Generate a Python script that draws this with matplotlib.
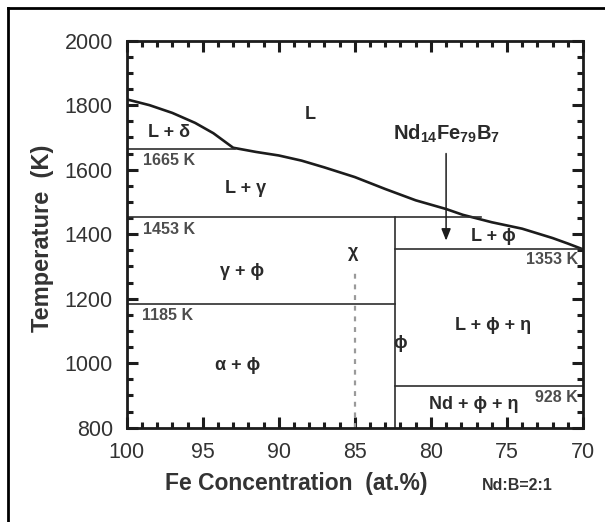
import matplotlib
matplotlib.use('Agg')
import matplotlib.pyplot as plt
from matplotlib.lines import Line2D
from matplotlib.ticker import MultipleLocator

plt.rcParams['font.family'] = ['Liberation Sans', 'DejaVu Sans']
plt.rcParams['mathtext.fontset'] = 'custom'
plt.rcParams['mathtext.bf'] = 'Liberation Sans:bold'
plt.rcParams['mathtext.rm'] = 'Liberation Sans'

# liquidus line (at.% Fe, K)
liq_fe = [100, 98.5, 97, 95.5, 94.3, 93.0, 91.5, 90, 88.5, 87, 85, 83, 81, 79,
          77.9, 76, 74, 72, 71, 70]
liq_T = [1818, 1800, 1776, 1745, 1713, 1668, 1655, 1644, 1628, 1607, 1577, 1540,
         1505, 1478, 1460, 1437, 1417, 1388, 1371, 1353]

# isotherms
iso_T = [1665, 1453, 1353, 1185, 928]
iso_fe0 = [100, 100, 82.36, 100, 82.36]
iso_fe1 = [92.9, 76.7, 70, 82.36, 70]
iso_lbl = ['1665 K', '1453 K', '1353 K', '1185 K', '928 K']

phi_fe = 82.36   # Nd2Fe14B line
phi_top = 1453
chi_fe = 85.0
chi_top = 1285
alloy_fe = 79.0  # Nd14Fe79B7

dark = '#1c1c1c'
grey = '#4d4d4d'
PHI = '\u03d5'

fig = plt.figure(figsize=(6.05, 5.22), dpi=100)
ax = fig.add_axes([0.2094, 0.1807, 0.7542, 0.7414])

ax.plot(liq_fe, liq_T, color=dark, lw=1.9, solid_capstyle='round')
for T, a, b in zip(iso_T, iso_fe0, iso_fe1):
    ax.plot([a, b], [T, T], color='#2e2e2e', lw=1.2)
ax.plot([phi_fe, phi_fe], [800, phi_top], color='#2e2e2e', lw=1.2)
ax.plot([chi_fe, chi_fe], [800, chi_top], color='#9a9a9a', lw=1.6,
        linestyle=(0, (2.2, 2.6)))

ax.set_xlim(100, 70)
ax.set_ylim(800, 2000)
ax.xaxis.set_major_locator(MultipleLocator(5))
ax.xaxis.set_minor_locator(MultipleLocator(1))
ax.yaxis.set_major_locator(MultipleLocator(200))
ax.yaxis.set_minor_locator(MultipleLocator(50))
ax.tick_params(which='major', direction='in', length=8, width=2.2,
               color=dark, top=True, right=True, pad=10, labelsize=15.5,
               labelcolor='#333333')
ax.tick_params(which='minor', direction='in', length=4.5, width=2.2,
               color=dark, top=True, right=True)
for s in ax.spines.values():
    s.set_linewidth(2.0)
    s.set_color(dark)

ax.set_xlabel('Fe Concentration  (at.%)', fontsize=16.5, fontweight='bold',
              color='#333333')
ax.xaxis.set_label_coords(0.372, -0.115)
ax.set_ylabel('Temperature  (K)', fontsize=17, fontweight='bold',
              color='#333333')
ax.yaxis.set_label_coords(-0.16, 0.49)
fig.text(517 / 605, 1 - 485 / 522, 'Nd:B=2:1', fontsize=11.5,
         fontweight='bold', color='#333333', ha='center', va='center')

# phase labels
lab = dict(fontsize=13, fontweight='bold', color='#2a2a2a', ha='center',
           va='center')
ax.text(87.95, 1770, 'L', **lab)
ax.text(97.2, 1714, 'L + δ', **lab)
ax.text(92.2, 1542, 'L + γ', **lab)
ax.text(92.4, 1284, 'γ + ' + PHI, **lab)
ax.text(92.7, 992, 'α + ' + PHI, **lab)
ax.text(85.1, 1344, 'χ', **lab)
ax.text(82.0, 1062, PHI, **lab)
ax.text(75.9, 1394, 'L + ' + PHI, **lab)
ax.text(75.9, 1118, 'L + ' + PHI + ' + η', **lab)
ax.text(77.2, 873, 'Nd + ' + PHI + ' + η', **lab)

# isotherm labels
kl = dict(fontsize=11.5, fontweight='bold', color=grey, va='center')
ax.text(98.95, 1627, iso_lbl[0], ha='left', **kl)
ax.text(98.9, 1413, iso_lbl[1], ha='left', **kl)
ax.text(70.35, 1323, iso_lbl[2], ha='right', **kl)
ax.text(99.0, 1147, iso_lbl[3], ha='left', **kl)
ax.text(70.35, 893, iso_lbl[4], ha='right', **kl)

ax.text(alloy_fe, 1711, r'$\mathbf{Nd_{14}Fe_{79}B_{7}}$', fontsize=14.5,
        color='#2a2a2a', ha='center', va='center')
ax.annotate('', xy=(alloy_fe, 1380), xytext=(alloy_fe, 1650),
            arrowprops=dict(arrowstyle='-|>,head_length=0.5,head_width=0.2',
                            mutation_scale=14, lw=1.1, color=dark,
                            shrinkA=0, shrinkB=0))

# outer frame (left and top edges only visible)
fx, fy = 8 / 605, 1 - 8 / 522
fig.add_artist(Line2D([fx, fx], [0, fy], transform=fig.transFigure,
                      color='black', lw=2))
fig.add_artist(Line2D([fx, 1], [fy, fy], transform=fig.transFigure,
                      color='black', lw=2))

fig.savefig('out.png', dpi=100)
